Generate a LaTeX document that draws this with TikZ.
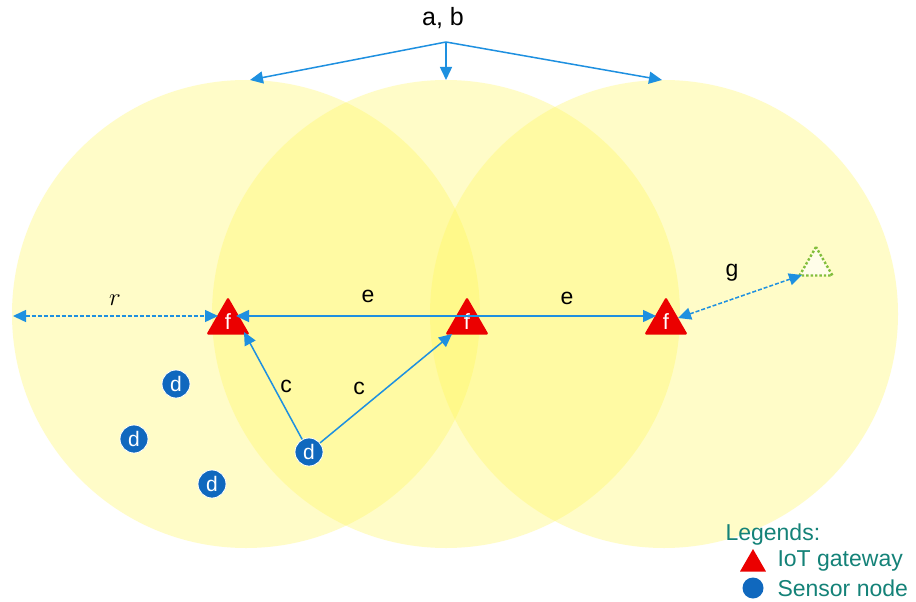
\documentclass[tikz,border=0pt]{standalone}
\usepackage{fontspec}
\setmainfont{Liberation Sans}
\usetikzlibrary{arrows.meta,shapes.geometric}
\definecolor{zone}{RGB}{255,248,90}
\definecolor{arr}{RGB}{30,144,224}
\definecolor{gw}{RGB}{235,0,0}
\definecolor{sn}{RGB}{16,104,190}
\definecolor{leg}{RGB}{20,130,120}
\definecolor{ghost}{RGB}{130,190,60}
\tikzset{
  zonecirc/.style={fill=zone,fill opacity=0.33,draw=none},
  gateway/.style={regular polygon,regular polygon sides=3,fill=gw,draw=none,minimum size=50pt,inner sep=0pt,text=white,font=\fontsize{22}{22}\selectfont,rounded corners=1.5pt},
  sensor/.style={circle,fill=sn,draw=white,line width=0.8pt,minimum size=28pt,inner sep=0pt,text=white,font=\fontsize{21}{21}\selectfont},
  link/.style={draw=arr,line width=1.5pt,-{Triangle[length=13pt,width=12pt]}},
  dlink/.style={draw=arr,line width=1.5pt,dashed,dash pattern=on 4pt off 2pt,{Triangle[length=13pt,width=12pt]}-{Triangle[length=13pt,width=12pt]}},
  lbl/.style={font=\fontsize{23}{23}\selectfont,text=black},
  legtxt/.style={anchor=west,font=\fontsize{23}{23}\selectfont,text=leg},
}
\begin{document}
\begin{tikzpicture}[x=1pt,y=-1pt]
\fill[white] (0,0) rectangle (916,602);
\useasboundingbox (0,0) rectangle (916,602);
% coverage zones
\fill[zonecirc] (246,314) circle (234);
\fill[zonecirc] (446,314) circle (234);
\fill[zonecirc] (664,314) circle (234);
% gateways
\node[gateway] (g1) at (228,322) {\raisebox{-7pt}{f}};
\node[gateway] (g2) at (467,322) {\raisebox{-7pt}{f}};
\node[gateway] (g3) at (666,322) {\raisebox{-7pt}{f}};
\node[regular polygon,regular polygon sides=3,draw=ghost,dotted,line width=2.4pt,fill=white,fill opacity=0.6,minimum size=38pt,inner sep=0pt] (gh) at (816,266) {};
% sensors
\node[sensor] (d1) at (176,384) {d};
\node[sensor] (d2) at (134,439) {d};
\node[sensor] (d3) at (212,484) {d};
\node[sensor] (d4) at (309,452) {d};
% top label
\node[font=\fontsize{25}{25}\selectfont] (ab) at (443,18) {a, b};
\coordinate (hub) at (446,42);
\coordinate (t1) at (250,80);
\coordinate (t2) at (446,80);
\coordinate (t3) at (662,80);
\draw[link] (hub) -- (t1);
\draw[link] (hub) -- (t2);
\draw[link] (hub) -- (t3);
% r
\coordinate (redge) at (13,316);
\draw[dlink] (redge) -- (218,316);
\node[font=\fontsize{24}{24}\selectfont,text=black] (rl) at (115,300) {$r$};
% e links
\draw[link] (g2.center |- 0,316) -- (236,316);
\draw[link] (g2.center |- 0,316) -- (656,316);
\node[lbl] (e1) at (368,296) {e};
\node[lbl] (e2) at (567,298) {e};
% c links
\draw[link] (d4) -- (244,332);
\draw[link] (d4) -- (452,334);
\node[lbl] (c1) at (286,386) {c};
\node[lbl] (c2) at (359,388) {c};
% g link
\draw[dlink] (678,318) -- (802,275);
\node[lbl] (gl) at (732,273) {g};
% legend
\node[legtxt] (lt) at (722,535) {Legends:};
\node[regular polygon,regular polygon sides=3,fill=gw,minimum size=30pt,inner sep=0pt] (lg) at (753,564) {};
\node[legtxt] (lgt) at (774,561) {IoT gateway};
\node[circle,fill=sn,minimum size=21pt,inner sep=0pt] (ls) at (753,588) {};
\node[legtxt] (lst) at (774,588) {Sensor node};
\end{tikzpicture}
\end{document}
